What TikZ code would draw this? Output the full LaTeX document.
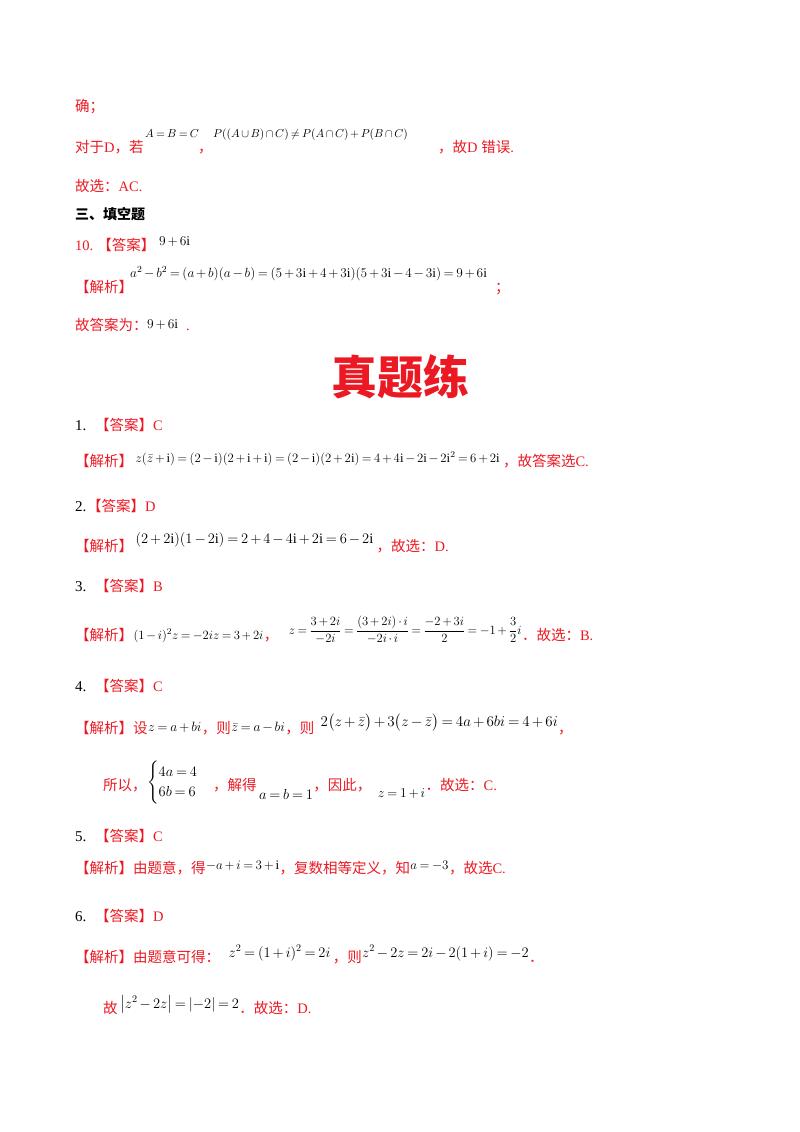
\RequirePackage{fix-cm}
\documentclass[tikz,border=0pt]{standalone}
\usepackage{amsmath}
\usepackage{fontspec}
\setmainfont{Liberation Serif}
\newfontfamily\cjk{Noto Sans CJK SC}
\definecolor{myred}{RGB}{235,25,35}
\tikzset{
 t/.style={anchor=base west,inner sep=0pt,text=myred,font=\cjk\fontsize{14.5}{17}\selectfont},
 tb/.style={anchor=base west,inner sep=0pt,text=black,font=\fontsize{15}{17}\selectfont},
 m/.style={anchor=base west,inner sep=0pt,text=black,font=\fontsize{13.5}{16}\selectfont},
 ms/.style={anchor=base west,inner sep=0pt,text=black,font=\fontsize{11.5}{13}\selectfont},
}
\newcommand{\lt}[1]{{\fontspec{Liberation Serif}#1}}
\medmuskip=2.5mu plus 1mu minus 1mu
\thickmuskip=3.5mu plus 2mu
\begin{document}
\begin{tikzpicture}[x=1pt,y=-1pt]
\useasboundingbox (0,0) rectangle (800,1132);
\node[t] (a1) at (75,111) {确；};
\node[t] (a2) at (75,152) {对于\lt{ D}，若};
\node[ms] (a3) at (145,137) {$A=B=C$};
\node[t] (a4) at (198,152) {，};
\node[ms] (a5) at (213,137) {$P((A\cup B)\cap C)\neq P(A\cap C)+P(B\cap C)$};
\node[t] (a6) at (438,152) {，故\lt{ D }错误\lt{.}};
\node[t] (a7) at (75,191) {故选：\lt{AC.}};
\node[t,text=black,font=\cjk\bfseries\fontsize{14}{16}\selectfont] (a8) at (75,219) {三、填空题};
\node[t] (a9) at (75,250) {\lt{10.}\;【答案】};
\node[m] (a10) at (159,245) {$9+6\mathrm{i}$};
\node[t] (a11) at (75,292) {【解析】};
\node[m,font=\fontsize{13.3}{15}\selectfont] (a12) at (130,277) {$a^2-b^2=(a+b)(a-b)=(5+3\mathrm{i}+4+3\mathrm{i})(5+3\mathrm{i}-4-3\mathrm{i})=9+6\mathrm{i}$};
\node[t] (a13) at (495,292) {；};
\node[t] (a14) at (75,330) {故答案为：};
\node[m] (a15) at (147,328) {$9+6\mathrm{i}$};
\node[t] (a16) at (186,330) {\lt{.}};
\node[anchor=center,text=myred,font=\cjk\bfseries\fontsize{46}{50}\selectfont] (title) at (400,377) {真题练};
% 1
\node[tb] (b1) at (75,430) {1.};
\node[t] (b2) at (95,430) {【答案】\lt{C}};
\node[t] (b3) at (75,466) {【解析】};
\node[ms,font=\fontsize{12.8}{14}\selectfont] (b4) at ([yshift=4pt,xshift=2pt]b3.base east) {$z(\bar z+\mathrm{i})=(2-\mathrm{i})(2+\mathrm{i}+\mathrm{i})=(2-\mathrm{i})(2+2\mathrm{i})=4+4\mathrm{i}-2\mathrm{i}-2\mathrm{i}^2=6+2\mathrm{i}$};
\node[t] (b5) at ([yshift=-4pt,xshift=3pt]b4.base east) {，故答案选\lt{C.}};
% 2
\node[tb] (c1) at (75,511) {2.};
\node[t] (c2) at (87,511) {【答案】\lt{D}};
\node[t] (c3) at (75,551) {【解析】};
\node[m,font=\fontsize{14.5}{17}\selectfont] (c4) at ([yshift=8pt,xshift=2pt]c3.base east) {$(2+2\mathrm{i})(1-2\mathrm{i})=2+4-4\mathrm{i}+2\mathrm{i}=6-2\mathrm{i}$};
\node[t] (c5) at ([yshift=-8pt,xshift=3pt]c4.base east) {，故选：\lt{D.}};
% 3
\node[tb] (d1) at (75,591) {3.};
\node[t] (d2) at (95,591) {【答案】\lt{B}};
\node[t] (d3) at (75,640) {【解析】};
\node[m,font=\fontsize{12.6}{14}\selectfont] (d4) at ([yshift=1pt]d3.base east) {$(1-i)^2z=-2iz=3+2i$};
\node[t] (d5) at ([yshift=-1pt]d4.base east) {，};
\node[m,font=\fontsize{12.6}{14}\selectfont] (d6) at ([yshift=6pt,xshift=10pt]d5.base east) {$z=\dfrac{3+2i}{-2i}=\dfrac{(3+2i)\cdot i}{-2i\cdot i}=\dfrac{-2+3i}{2}=-1+\dfrac{3}{2}i$};
\node[t] (d7) at ([yshift=-6pt]d6.base east) {．故选：\lt{B.}};
% 4
\node[tb] (e1) at (75,691) {4.};
\node[t] (e2) at (95,691) {【答案】\lt{C}};
\node[t] (e3) at (75,733) {【解析】设};
\node[m] (e4) at ([yshift=2pt]e3.base east) {$z=a+bi$};
\node[t] (e5) at ([yshift=-2pt]e4.base east) {，则};
\node[m] (e6) at ([yshift=2pt]e5.base east) {$\bar z=a-bi$};
\node[t] (e6b) at ([yshift=-2pt]e6.base east) {，则};
\node[m,font=\fontsize{15}{17}\selectfont] (e7) at ([yshift=7pt,xshift=6pt]e6b.base east) {$2\bigl(z+\bar z\bigr)+3\bigl(z-\bar z\bigr)=4a+6bi=4+6i$};
\node[t] (e8) at ([yshift=-7pt]e7.base east) {，};
\node[t] (e9) at (103,790) {所以，};
\node[m,font=\fontsize{14.5}{17}\selectfont] (e10) at ([yshift=4pt]e9.base east) {$\begin{cases}4a=4\\6b=6\end{cases}$};
\node[t] (e11) at ([yshift=-4pt]e10.base east) {，解得};
\node[m,font=\fontsize{14.5}{17}\selectfont] (e12) at ([yshift=-9pt,xshift=2pt]e11.base east) {$a=b=1$};
\node[t] (e13) at ([yshift=9pt]e12.base east) {，因此，};
\node[m] (e14) at ([yshift=-7pt,xshift=6pt]e13.base east) {$z=1+i$};
\node[t] (e15) at ([yshift=7pt]e14.base east) {．故选：\lt{C.}};
% 5
\node[tb] (f1) at (75,841) {5.};
\node[t] (f2) at (95,841) {【答案】\lt{C}};
\node[t] (f3) at (75,873) {【解析】由题意，得};
\node[m,font=\fontsize{13}{14}\selectfont] (f4) at ([yshift=4pt]f3.base east) {$-a+i=3+\mathrm{i}$};
\node[t] (f5) at ([yshift=-4pt]f4.base east) {，复数相等定义，知};
\node[m,font=\fontsize{13}{14}\selectfont] (f6) at ([yshift=4pt]f5.base east) {$a=-3$};
\node[t] (f7) at ([yshift=-4pt]f6.base east) {，故选\lt{C.}};
% 6
\node[tb] (g1) at (75,921) {6.};
\node[t] (g2) at (95,921) {【答案】\lt{D}};
\node[t] (g3) at (75,962) {【解析】由题意可得：};
\node[m,font=\fontsize{14.5}{15}\selectfont] (g4) at ([yshift=5pt,xshift=8pt]g3.base east) {$z^2=(1+i)^2=2i$};
\node[t] (g5) at ([yshift=-5pt,xshift=2pt]g4.base east) {，则};
\node[m,font=\fontsize{14.5}{15}\selectfont] (g6) at ([yshift=5pt]g5.base east) {$z^2-2z=2i-2(1+i)=-2$};
\node[t] (g7) at ([yshift=-5pt]g6.base east) {．};
\node[t] (h1) at (103,1013) {故};
\node[m,font=\fontsize{14.5}{15}\selectfont] (h2) at ([yshift=5pt,xshift=2pt]h1.base east) {$\left|z^2-2z\right|=\left|-2\right|=2$};
\node[t] (h3) at ([yshift=-5pt]h2.base east) {．故选：\lt{D.}};
\end{tikzpicture}
\end{document}
